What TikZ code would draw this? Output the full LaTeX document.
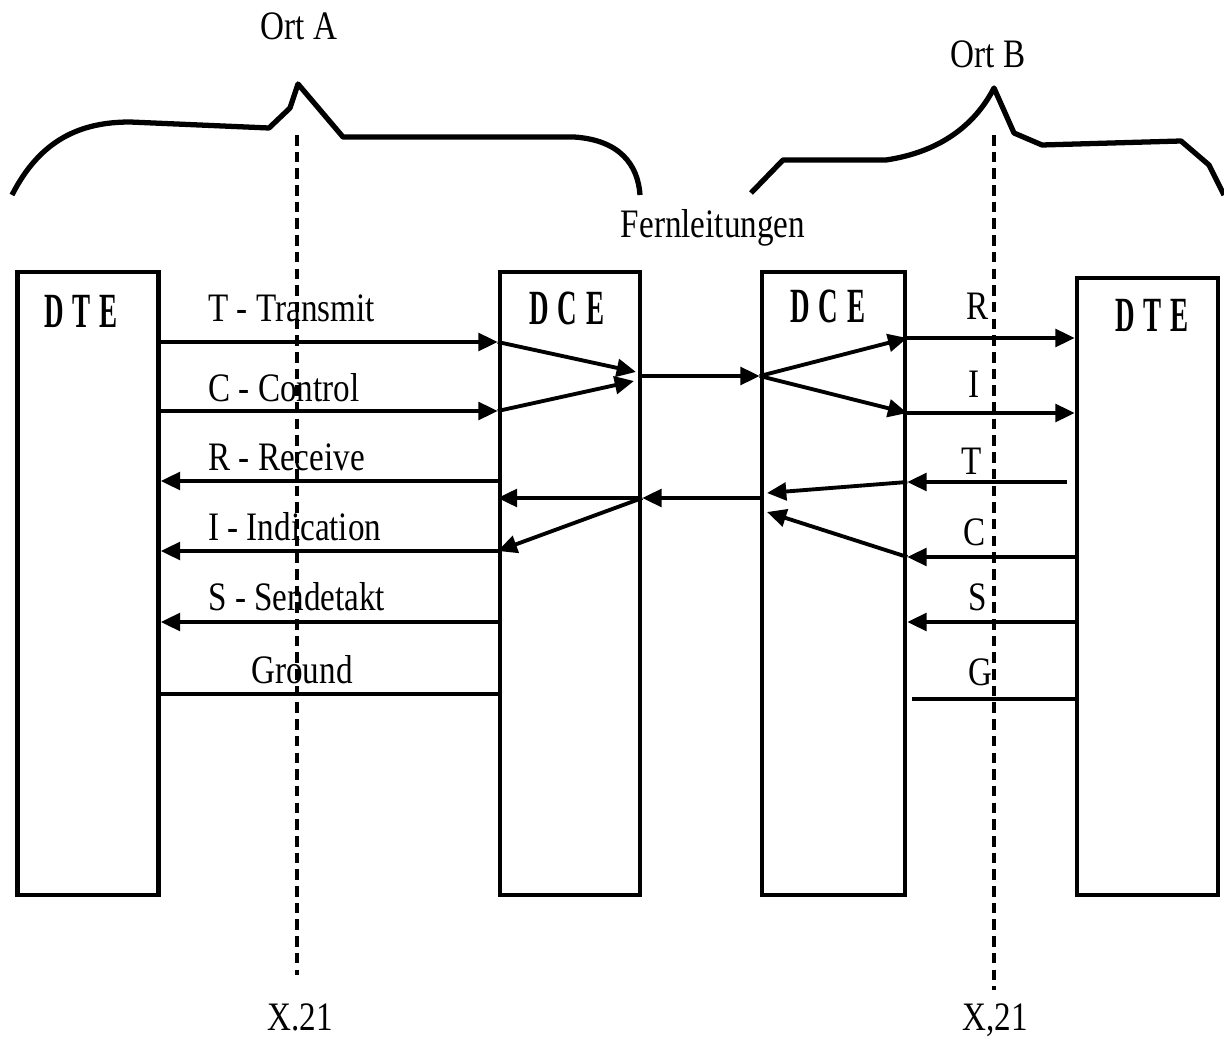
\documentclass[tikz,border=0pt]{standalone}
\usepackage{fontspec}
\setmainfont{Liberation Serif}
\newfontfamily\sigfont[FakeStretch=0.82]{Liberation Serif}
\newfontfamily\unitfont[FakeStretch=0.55,LetterSpace=18]{Liberation Serif}
\usepackage{tikz}
\usetikzlibrary{arrows.meta}
\tikzset{
  unitbox/.style={draw, line width=2.6pt, minimum width=2.82cm,
                  minimum height=12.46cm, inner sep=0pt},
  unitlbl/.style={font=\unitfont\bfseries\fontsize{28}{30}\selectfont,
                  anchor=base, inner sep=0pt},
  siglbl/.style ={font=\sigfont\fontsize{23}{26}\selectfont,
                  anchor=base, inner sep=0pt},
  sig/.style    ={line width=2.2pt},
  arr/.style    ={sig, -{Triangle[length=11pt,width=10pt]}},
  brace/.style  ={line width=3pt, line join=round},
  x21/.style    ={line width=2pt, dash pattern=on 6pt off 3.5pt},
}
\begin{document}
\begin{tikzpicture}[x=0.02cm, y=-0.02cm]
  \useasboundingbox (0,0) rectangle (1224,1040);

  \node[unitbox] (dteA) at (88,583.5) {};
  \node[unitbox, minimum width=2.8cm]  (dceA) at (570,583.5) {};
  \node[unitbox, minimum width=2.86cm] (dceB) at (833.5,583.5) {};
  \node[unitbox, minimum height=12.34cm] (dteB) at (1147.5,586.5) {};
  \node[unitlbl] (dteAlbl) at (81,328)   {DTE};
  \node[unitlbl] (dceAlbl) at (567,325)  {DCE};
  \node[unitlbl] (dceBlbl) at (828,323)  {DCE};
  \node[unitlbl] (dteBlbl) at (1152,332) {DTE};

  \foreach \r/\y in {T/342,C/411,R/481,I/551,S/622,G/694}
    \coordinate (row\r) at (0,\y);
  \foreach \r/\y in {R/338,I/413,T/482,C/557,S/622,G/699}
    \coordinate (row\r b) at (0,\y);
  \coordinate (fwd) at (0,376);
  \coordinate (bwd) at (0,498);
  \coordinate (tA) at (636,372); \coordinate (cA) at (634,381);
  \coordinate (tB) at (767,493); \coordinate (cB) at (767,512);
  \coordinate (tEnd) at (1067,482); \coordinate (gEnd) at (912,699);

  % Ort A
  \draw[arr](dteA.east|-rowT)--(dceA.west|-rowT);
  \draw[arr](dteA.east|-rowC)--(dceA.west|-rowC);
  \draw[arr](dceA.west|-rowR)--(dteA.east|-rowR);
  \draw[arr](dceA.west|-rowI)--(dteA.east|-rowI);
  \draw[arr](dceA.west|-rowS)--(dteA.east|-rowS);
  \draw[sig](dceA.west|-rowG)--(dteA.east|-rowG);
  \draw[arr](dceA.west|-rowT)--(tA);\draw[arr](dceA.west|-rowC)--(cA);
  \draw[arr](dceA.east|-bwd)--(dceA.west|-bwd);
  \draw[arr](dceA.east|-bwd)--(dceA.west|-rowI);

  % Fernleitungen
  \draw[arr](dceA.east|-fwd)--(dceB.west|-fwd);
  \draw[arr](dceB.west|-bwd)--(dceA.east|-bwd);

  % Ort B
  \draw[arr](dceB.west|-fwd)--(dceB.east|-rowRb);
  \draw[arr](dceB.west|-fwd)--(dceB.east|-rowIb);
  \draw[arr](dceB.east|-rowRb)--(dteB.west|-rowRb);
  \draw[arr](dceB.east|-rowIb)--(dteB.west|-rowIb);
  \draw[arr](tEnd)--(dceB.east|-rowTb);
  \draw[arr](dteB.west|-rowCb)--(dceB.east|-rowCb);
  \draw[arr](dteB.west|-rowSb)--(dceB.east|-rowSb);
  \draw[sig](gEnd)--(dteB.west|-rowGb);
  \draw[arr](dceB.east|-rowTb)--(tB);\draw[arr](dceB.east|-rowCb)--(cB);

  \node[siglbl, anchor=base west] (lT) at (208,322) {T - Transmit};
  \node[siglbl, anchor=base west] (lC) at (208,402) {C - Control};
  \node[siglbl, anchor=base west] (lR) at (208,470) {R - Receive};
  \node[siglbl, anchor=base west] (lI) at (208,540) {I - Indication};
  \node[siglbl, anchor=base west] (lS) at (208,610) {S - Sendetakt};
  \node[siglbl] (lG) at (302,683) {Ground};
  \node[siglbl] (rR) at (978,320) {R};
  \node[siglbl] (rI) at (974,398) {I};
  \node[siglbl] (rT) at (972,475) {T};
  \node[siglbl] (rC) at (975,545) {C};
  \node[siglbl] (rS) at (978,610) {S};
  \node[siglbl] (rG) at (980,685) {G};

  \node[siglbl] (ortA) at (299,40)  {Ort A};
  \node[siglbl] (ortB) at (988,68)  {Ort B};
  \node[siglbl] (fern) at (713,238) {Fernleitungen};
  \node[siglbl] (xA)   at (300,1030) {X.21};
  \node[siglbl] (xB)   at (995,1030) {X,21};

  \coordinate (topA) at (297,135); \coordinate (botA) at (297,975);
  \coordinate (topB) at (994,135); \coordinate (botB) at (994,990);
  \draw[x21](topA)--(botA);\draw[x21](topB)--(botB);

  \draw[brace] (12,195) .. controls (40,140) and (80,122) .. (130,122)
    -- (269,128) -- (290,108) -- (298,84) -- (343,137) -- (574,137)
    .. controls (620,140) and (638,165) .. (640,195);
  \draw[brace] (751,193) -- (783,160) -- (886,160)
    .. controls (940,152) and (975,125) .. (994,88)
    -- (1014,133) -- (1042,145) -- (1181,141) -- (1209,165) -- (1224,195);
\end{tikzpicture}
\end{document}
